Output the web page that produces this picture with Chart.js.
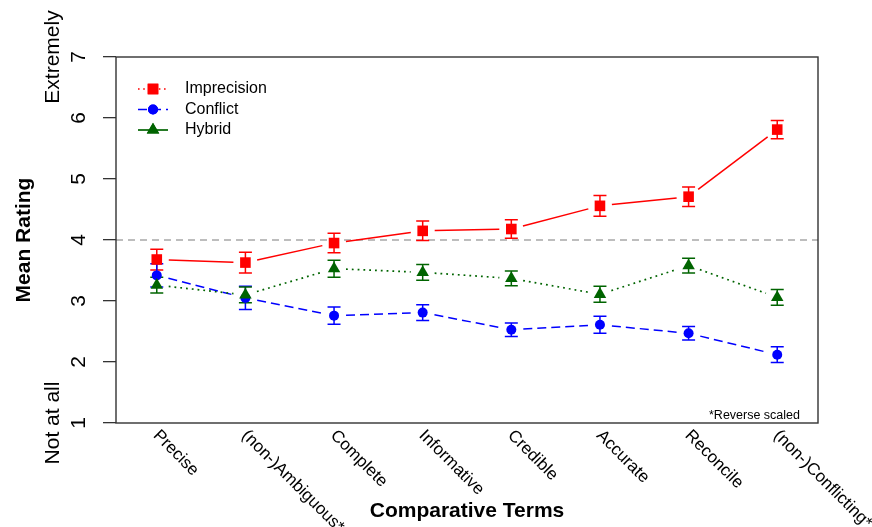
<!DOCTYPE html>
<html>
<head>
<meta charset="utf-8">
<script src="https://cdn.jsdelivr.net/npm/chart.js@4/dist/chart.umd.min.js"></script>
<style>
  html, body { margin: 0; padding: 0; background: #ffffff; }
  #wrap { width: 872px; height: 527px; }
</style>
</head>
<body>
<div id="wrap"><canvas id="chart" width="872" height="527"></canvas></div>
<script>
// Comparative terms rated on a 1-7 scale
const categories = [
  "Precise", "(non-)Ambiguous*", "Complete", "Informative",
  "Credible", "Accurate", "Reconcile", "(non-)Conflicting*"
];

// Mean ratings and standard errors per condition
const imprecisionMeans  = [3.68, 3.63, 3.95, 4.15, 4.18, 4.56, 4.71, 5.81];
const imprecisionErrors = [0.17, 0.17, 0.16, 0.16, 0.15, 0.17, 0.16, 0.15];

const conflictMeans  = [3.42, 3.05, 2.76, 2.81, 2.53, 2.61, 2.47, 2.12];
const conflictErrors = [0.19, 0.19, 0.14, 0.13, 0.11, 0.14, 0.11, 0.13];

const hybridMeans  = [3.26, 3.10, 3.53, 3.47, 3.37, 3.11, 3.58, 3.06];
const hybridErrors = [0.13, 0.13, 0.14, 0.13, 0.12, 0.13, 0.12, 0.13];

const yTickValues = [1, 2, 3, 4, 5, 6, 7];
const yEndLabels = { 7: "Extremely", 1: "Not at all" };
const referenceLevel = 4;
const footnote = "*Reverse scaled";

const FONT = "'Liberation Sans', Arial, Helvetica, sans-serif";

const series = [
  { label: "Imprecision", means: imprecisionMeans, errors: imprecisionErrors,
    color: "#ff0000", dash: [], legendDash: [1.6, 3.6], width: 1.5,
    pointStyle: "rect", radius: 7.5, order: 3 },
  { label: "Conflict", means: conflictMeans, errors: conflictErrors,
    color: "#0000ff", dash: [9, 5], legendDash: [9, 5], width: 1.5,
    pointStyle: "circle", radius: 5, order: 2 },
  { label: "Hybrid", means: hybridMeans, errors: hybridErrors,
    color: "#006400", dash: [1.8, 4], legendDash: [], width: 1.7,
    pointStyle: "triangle", radius: 7.2, order: 1 }
];

const toPoints = (values) => values.map((v, i) => ({ x: i + 1, y: v }));

const extras = {
  id: "figureExtras",
  beforeDatasetsDraw(chart) {
    const { ctx, chartArea: a, scales: { x, y } } = chart;
    ctx.save();

    // neutral midpoint reference line
    ctx.beginPath();
    ctx.setLineDash([7, 5]);
    ctx.strokeStyle = "#a8a8a8";
    ctx.lineWidth = 1.3;
    const ry = y.getPixelForValue(referenceLevel);
    ctx.moveTo(a.left, ry);
    ctx.lineTo(a.right, ry);
    ctx.stroke();

    series.forEach((s) => {
      const pts = s.means.map((v, i) => [x.getPixelForValue(i + 1), y.getPixelForValue(v)]);

      // connectors, broken around each marker
      ctx.strokeStyle = s.color;
      ctx.lineWidth = s.width;
      ctx.setLineDash(s.dash);
      ctx.lineCap = "butt";
      const gap = 12;
      for (let i = 0; i < pts.length - 1; i++) {
        const [x0, y0] = pts[i];
        const [x1, y1] = pts[i + 1];
        const dx = x1 - x0, dy = y1 - y0;
        const d = Math.hypot(dx, dy);
        if (d <= 2 * gap) continue;
        const ux = dx / d, uy = dy / d;
        ctx.beginPath();
        ctx.moveTo(x0 + ux * gap, y0 + uy * gap);
        ctx.lineTo(x1 - ux * gap, y1 - uy * gap);
        ctx.stroke();
      }

      // error bars (mean +/- SE)
      ctx.setLineDash([]);
      ctx.lineWidth = 1.5;
      const cap = 6.5;
      s.means.forEach((v, i) => {
        const px = x.getPixelForValue(i + 1);
        const lo = y.getPixelForValue(v - s.errors[i]);
        const hi = y.getPixelForValue(v + s.errors[i]);
        ctx.beginPath();
        ctx.moveTo(px, lo); ctx.lineTo(px, hi);
        ctx.moveTo(px - cap, lo); ctx.lineTo(px + cap, lo);
        ctx.moveTo(px - cap, hi); ctx.lineTo(px + cap, hi);
        ctx.stroke();
      });
    });
    ctx.restore();
  },
  afterDraw(chart) {
    const { ctx, chartArea: a, scales: { x, y } } = chart;
    ctx.save();

    // plot frame
    ctx.setLineDash([]);
    ctx.strokeStyle = "#333333";
    ctx.lineWidth = 1.4;
    ctx.strokeRect(a.left, a.top, a.right - a.left, a.bottom - a.top);

    // y tick labels, reading upward
    ctx.fillStyle = "#000000";
    ctx.font = "21px " + FONT;
    ctx.textAlign = "center";
    ctx.textBaseline = "middle";
    yTickValues.forEach((v) => {
      const py = y.getPixelForValue(v);
      ctx.save();
      ctx.translate(79, py);
      ctx.rotate(-Math.PI / 2);
      ctx.fillText(String(v), 0, 0);
      if (yEndLabels[v]) ctx.fillText(yEndLabels[v], 0, -25.5);
      ctx.restore();
    });

    // slanted category labels
    ctx.font = "17px " + FONT;
    ctx.textAlign = "left";
    ctx.textBaseline = "middle";
    categories.forEach((c, i) => {
      const px = x.getPixelForValue(i + 1);
      ctx.save();
      ctx.translate(px - 1, a.bottom + 10);
      ctx.rotate(Math.PI / 4);
      ctx.fillText(c, 0, 0);
      ctx.restore();
    });

    // footnote
    ctx.font = "12.5px " + FONT;
    ctx.textAlign = "right";
    ctx.textBaseline = "alphabetic";
    ctx.fillText(footnote, a.right - 18, a.bottom - 4);

    // legend
    const lx0 = a.left + 22, lx1 = a.left + 52, lmid = (lx0 + lx1) / 2;
    const rows = [89, 109.5, 130];
    series.forEach((s, i) => {
      const ly = rows[i];
      ctx.strokeStyle = s.color;
      ctx.fillStyle = s.color;
      ctx.lineWidth = s.width;
      ctx.setLineDash(s.legendDash);
      ctx.beginPath();
      ctx.moveTo(lx0, ly); ctx.lineTo(lx1, ly);
      ctx.stroke();
      ctx.setLineDash([]);
      Chart.helpers.drawPoint(ctx, { pointStyle: s.pointStyle, radius: s.radius, borderWidth: 0 }, lmid, ly);
      ctx.fill();
      ctx.fillStyle = "#000000";
      ctx.font = "16px " + FONT;
      ctx.textAlign = "left";
      ctx.textBaseline = "middle";
      ctx.fillText(s.label, a.left + 69, ly);
    });
    ctx.restore();
  }
};

new Chart(document.getElementById("chart"), {
  type: "line",
  data: {
    datasets: series.map((s) => ({
      label: s.label,
      data: toPoints(s.means),
      showLine: false,
      pointStyle: s.pointStyle,
      pointRadius: s.radius,
      pointBackgroundColor: s.color,
      pointBorderColor: s.color,
      pointBorderWidth: 0,
      order: s.order
    }))
  },
  options: {
    responsive: false,
    animation: false,
    devicePixelRatio: 1,
    layout: { padding: { top: 57, right: 54, left: 0, bottom: 0 } },
    plugins: { legend: { display: false }, tooltip: { enabled: false } },
    scales: {
      x: {
        type: "linear",
        min: 0.54,
        max: 8.46,
        grid: { display: false },
        border: { display: false },
        ticks: { display: false },
        title: {
          display: true,
          text: "Comparative Terms",
          color: "#000000",
          font: { family: FONT, size: 21, weight: "bold" },
          padding: { top: 0, bottom: 3.4 }
        },
        afterFit(scale) { scale.height = 104; }
      },
      y: {
        type: "linear",
        min: 1,
        max: 7,
        ticks: { display: false, stepSize: 1 },
        grid: {
          display: true,
          drawOnChartArea: false,
          drawTicks: true,
          tickLength: 13,
          color: "#333333",
          lineWidth: 1.3
        },
        border: { display: false },
        title: {
          display: true,
          text: "Mean Rating",
          color: "#000000",
          font: { family: FONT, size: 21, weight: "bold" },
          padding: { top: 11.4, bottom: 0 }
        },
        afterFit(scale) { scale.width = 116; }
      }
    }
  },
  plugins: [extras]
});
</script>
</body>
</html>
